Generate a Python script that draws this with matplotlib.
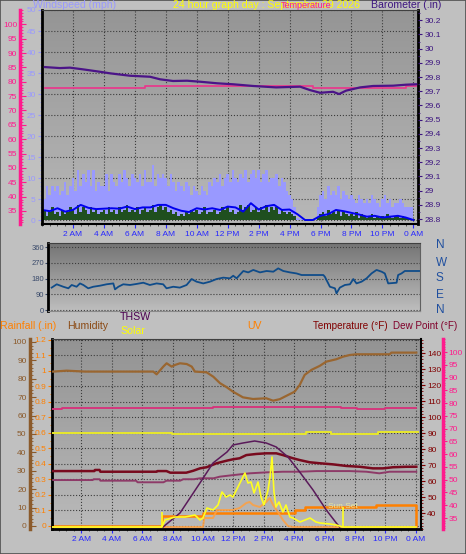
import logging
import matplotlib
matplotlib.use("Agg")
import matplotlib.pyplot as plt
import numpy as np
from matplotlib.colors import to_rgb
from matplotlib.ticker import MultipleLocator, FormatStrFormatter
from matplotlib.patches import Rectangle

logging.getLogger("matplotlib.font_manager").setLevel(logging.ERROR)
plt.rcParams["font.family"] = ["Liberation Sans", "DejaVu Sans"]

# ---------------- data ----------------
hour_ticks = list(range(2, 25, 2))
hour_labels = ["2 AM", "4 AM", "6 AM", "8 AM", "10 AM", "12 PM",
               "2 PM", "4 PM", "6 PM", "8 PM", "10 PM", "0 AM"]

# wind, 10 minute samples (mph)
t10 = np.arange(145) / 6.0
gust = [7, 5, 8, 6, 8, 7,  8, 6, 7, 9, 6, 8,  10, 7, 12, 8, 11, 9,
        12, 8, 12, 7, 9, 8,  8, 11, 7, 11, 9, 8,  11, 9, 12, 10, 8, 11,
        10, 9, 11, 8, 12, 9,  9, 13, 8, 11, 10, 11,  10, 8, 11, 9, 7, 9,
        8, 7, 9, 8, 6, 8,  7, 6, 8, 7, 6, 9,  8, 10, 9, 11, 8, 10,
        11, 9, 12, 10, 9, 11,  10, 12, 9, 11, 12, 10,  12, 9, 11, 12, 9, 10,
        10, 11, 8, 10, 9, 7,  6, 5, 3, 0.5, 0.3, 0.3,  0.3, 0.3, 0.3, 0.3, 0.3, 3,
        6, 7, 5, 8, 6, 7,  6, 8, 5, 7, 6, 5,  6, 5, 4, 6, 5, 4,
        5, 4, 6, 5, 4, 3,  5, 6, 4, 5, 3, 4,  4, 5, 4, 3, 3, 3,  3]
speed = [1.5, 2.5, 1.0, 2.0, 3.0, 1.5,  2.0, 1.0, 2.5, 1.5, 2.0, 3.0,
         2.5, 1.5, 3.5, 2.0, 3.0, 2.5,  1.5, 3.0, 2.0, 2.5, 1.5, 2.0,
         2.5, 1.5, 3.0, 2.0, 2.5, 1.5,  3.0, 2.0, 2.5, 3.5, 2.0, 2.5,
         2.0, 3.0, 1.5, 2.5, 3.0, 2.0,  2.5, 3.5, 2.0, 3.0, 3.5, 2.5,
         3.0, 2.0, 2.5, 1.5, 2.0, 1.0,  1.5, 1.0, 2.0, 1.5, 2.5, 2.0,
         2.5, 1.5, 2.0, 3.0, 1.5, 2.0,  2.0, 2.5, 1.5, 2.0, 3.0, 2.5,
         3.0, 2.0, 2.5, 1.5, 2.0, 3.5,  2.5, 3.0, 3.5, 2.0, 2.5, 3.0,
         2.0, 3.0, 2.5, 3.5, 2.0, 3.0,  2.5, 3.0, 1.5, 2.5, 2.0, 1.5,
         2.0, 1.5, 1.0, 0, 0, 0,  0, 0, 0, 0, 0, 0.5,
         1.5, 2.0, 1.0, 2.5, 1.5, 2.0,  1.5, 2.5, 1.0, 2.0, 1.5, 1.0,
         1.5, 1.0, 2.0, 0.5, 1.5, 1.0,  0.5, 1.0, 1.5, 0.5, 1.0, 0.5,
         1.0, 0.5, 1.5, 1.0, 0.5, 1.0,  1.0, 0.5, 1.0, 0.5, 0.5, 0.3,  0.2]
t30 = np.arange(49) / 2.0
avg_speed = [2.4, 2.1, 2.8, 2.0, 2.4, 3.6, 2.9, 2.6, 2.7, 2.8, 2.7, 3.2,
             2.6, 3.0, 3.0, 3.6, 3.6, 2.8, 2.2, 1.9, 2.8, 2.5, 2.8, 2.4,
             3.2, 3.0, 2.0, 4.0, 2.5, 3.3, 3.6, 2.4, 2.5, 1.4, 0, 0,
             1.0, 1.4, 2.4, 2.1, 1.7, 1.3, 0.8, 1.0, 0.6, 0.8, 1.0, 0.6, 0]

# barometer (in)
baro_h = [0.19, 1.16, 1.81, 2.65, 3.75, 4.40, 5.69, 6.98, 7.63, 8.47, 9.37, 10.21,
          11.31, 12.35, 13.64, 15.13, 16.68, 17.32, 17.97, 18.81, 19.20, 19.65,
          20.56, 21.40, 22.69, 23.53, 24.18]
baro = [29.870, 29.863, 29.866, 29.854, 29.837, 29.826, 29.809, 29.802, 29.784,
        29.772, 29.774, 29.767, 29.756, 29.749, 29.737, 29.727, 29.732, 29.708,
        29.689, 29.696, 29.680, 29.704, 29.727, 29.737, 29.739, 29.746, 29.749]

# temperature trace of the upper panel (F), stepped
temp_top_h = [0.19, 6.66, 10.73, 17.52, 20.56, 23.53, 24.18]
temp_top = [77.75, 78.4, 78.7, 77.9, 78.0, 78.7, 78.7]

# wind direction (deg)
dir_h = [0.0, 0.33, 0.76, 1.09, 1.31, 1.63, 1.85, 2.07, 2.39, 2.72, 3.16, 3.59,
         4.03, 4.14, 4.36, 4.68, 5.12, 5.55, 5.99, 6.42, 6.86, 7.29, 7.51, 7.95,
         8.38, 8.82, 9.15, 9.47, 9.91, 10.35, 10.78, 11.22, 11.65, 11.87, 12.09,
         12.53, 12.85, 13.18, 13.62, 14.05, 14.49, 14.81, 15.14, 15.58, 16.01,
         16.34, 17.76, 17.86, 18.19, 18.52, 18.62, 18.84, 19.17, 19.5, 19.72,
         19.93, 20.26, 20.59, 20.91, 21.24, 21.57, 21.78, 22.0, 22.55, 22.65,
         22.87, 23.09, 24.03]
dir_deg = [128, 147, 133, 124, 143, 133, 152, 143, 124, 133, 139, 147,
           152, 118, 133, 147, 143, 149, 156, 143, 152, 147, 124, 133,
           128, 143, 177, 162, 152, 162, 177, 185, 181, 196, 181,
           223, 215, 229, 215, 223, 219, 238, 223, 215, 209,
           200, 200, 190, 133, 124, 95, 128, 143, 147, 177,
           152, 162, 181, 209, 229, 219, 209, 152, 156, 200,
           209, 223, 223]

# humidity (%)
hum_h = [0.15, 1.03, 2.24, 6.73, 6.95, 7.39, 7.61, 7.94, 8.16, 8.49, 8.93, 9.26,
         9.47, 10.24, 10.68, 11.12, 11.56, 11.97, 12.63, 13.29, 14.16, 14.61,
         15.05, 15.48, 16.03, 16.36, 16.69, 17.13, 17.68, 18.11, 18.77, 19.21,
         19.65, 20.09, 22.28, 22.39, 24.03]
humidity = [83.9, 84.4, 83.9, 83.9, 82.4, 86.6, 88.4, 86.6, 87.5, 88.4, 88.0, 86.6,
            83.9, 83.5, 81.1, 77.6, 75.4, 73.0, 69.9, 69.0, 69.4, 68.1,
            68.9, 70.7, 73.0, 76.6, 82.1, 84.8, 87.0, 89.3, 90.6, 92.0,
            92.9, 93.3, 93.3, 94.2, 94.2]

# dew point (F), stepped
dew_h = [0.07, 0.72, 10.66, 19.08, 20.13, 21.97, 24.01]
dew = [77.7, 78.2, 78.6, 78.0, 77.7, 78.0, 78.0]

# inside temperature (F), stepped
tin_h = [0.07, 7.96, 16.78, 18.42, 21.51, 24.14]
temp_in = [90.2, 89.4, 90.6, 89.4, 90.6, 90.6]

# outside temperature (F)
temp_h = [0.15, 2.85, 2.9, 3.2, 3.25, 6.95, 7.0, 7.6, 7.85, 8.9, 9.36, 9.8, 10.24,
          10.9, 11.56, 11.99, 12.41, 12.85, 13.51, 14.16, 14.82, 15.26, 15.92,
          16.36, 17.02, 17.68, 18.55, 19.43, 20.31, 21.18, 21.84, 22.5, 23.38, 24.03]
temp = [66.2, 66.2, 66.9, 66.9, 65.8, 65.8, 66.2, 66.2, 65.2, 65.2, 66.4, 67.9, 68.6,
        71.1, 72.7, 73.6, 74.2, 76.2, 76.9, 77.3, 77.3, 76.2, 74.2,
        73.1, 71.7, 71.1, 70.4, 69.4, 68.9, 67.9, 67.9, 68.6, 68.9, 68.9]

# wind chill (F)
chill_h = [0.15, 2.75, 2.8, 3.2, 3.25, 5.6, 5.7, 7.4, 7.6, 8.5, 8.7, 9.4, 9.8, 10.7,
           11.1, 12.0, 13.07, 14.16, 15.26, 16.36, 17.46, 19.65, 20.75, 21.6, 22.28, 24.03]
chill = [60.6, 60.6, 61.1, 61.1, 60.2, 60.2, 59.2, 59.2, 60.2, 60.2, 61.1, 61.1, 61.7,
         61.7, 62.7, 63.7, 64.8, 65.4, 65.8, 65.8, 66.2, 66.2, 65.8, 64.8, 65.8, 65.8]

# THSW (arc)
thsw_h = [7.37, 8.49, 9.8, 10.66, 11.58, 11.97, 12.63, 13.4, 14.16, 14.82,
          15.59, 16.36, 17.24, 18.11, 18.77, 18.99]
thsw = [0, 70, 220, 320, 375, 410, 420, 430, 420, 400, 350, 275, 185, 85, 20, 0]

# solar radiation (W/m2)
solar_h = [0.07, 7.3, 7.5, 8.16, 8.82, 9.47, 9.8, 10.0, 10.26, 10.66, 10.99, 11.25,
           11.51, 11.78, 11.97, 12.3, 12.76, 12.96, 13.16, 13.36, 13.62, 13.82,
           14.01, 14.28, 14.41, 14.54, 14.67, 14.8, 15.0, 15.26, 15.46, 15.72,
           15.92, 16.38, 17.04, 17.43, 17.7, 18.36, 18.75, 19.21, 24.01]
solar = [0, 0, 35, 50, 50, 60, 35, 45, 95, 85, 110, 175,
         150, 160, 150, 200, 270, 220, 225, 170, 225, 150,
         110, 185, 250, 350, 175, 100, 125, 75, 110, 50,
         45, 25, 45, 25, 20, 15, 10, 0, 0]
sunrise_h, sunset_h = 7.3, 19.21

# UV index
uv_h = [0.07, 10.0, 10.09, 10.66, 10.92, 11.97, 12.41, 12.85, 13.07, 13.29, 13.73,
        14.16, 14.39, 14.61, 14.93, 15.26, 15.59, 15.92, 24.01]
uv = [0, 0, 0.54, 0.54, 1.02, 1.02, 1.14, 1.44, 1.5, 1.32, 1.2,
      1.5, 1.74, 1.32, 0.9, 0.42, 0.06, 0, 0]

# rainfall (in), stepped
rain_h = [0.07, 7.3, 10.0, 16.05, 16.7, 21.41, 24.01]
rain = [0, 0.065, 0.084, 0.103, 0.12, 0.135, 0]

# ---------------- figure ----------------
W, H = 466, 554
fig = plt.figure(figsize=(W / 100, H / 100), dpi=100)
fig.patch.set_facecolor("#c0c0c0")
fig.patches.append(Rectangle((0, 0), 1, 1, transform=fig.transFigure, fill=False,
                             edgecolor="#505050", lw=1.2))

PINK = "#ff1a8c"
GRID = dict(ls=":", color="#3c3c3c", lw=0.8)


def px_rect(x0, y0, x1, y1):
    return [x0 / W, 1 - y1 / H, (x1 - x0) / W, (y1 - y0) / H]


def label(x, y, s, color, size=7.6):
    fig.text(x / W, 1 - y / H, s, color=color, fontsize=size, va="center", ha="left")


def shade(a, c_top, c_bot):
    t, b = np.array(to_rgb(c_top)), np.array(to_rgb(c_bot))
    f = np.linspace(0, 1, 200)[:, None, None]
    a.imshow(t + (b - t) * f, extent=(0, 1, 0, 1), transform=a.transAxes,
             aspect="auto", zorder=-5, interpolation="bilinear")


def hide(a):
    for s in a.spines.values():
        s.set_visible(False)


def time_axis(a):
    a.set_xticks(hour_ticks)
    a.set_xticklabels(hour_labels)
    a.xaxis.set_minor_locator(MultipleLocator(0.5))
    a.tick_params(axis="x", which="both", colors="#2828ff", labelsize=6, pad=2)
    a.tick_params(axis="x", which="major", length=3)
    a.tick_params(axis="x", which="minor", length=1.5, color="#404040")


# ---- top panel: wind speed / barometer ----
ax = fig.add_axes(px_rect(42, 10, 418, 224))
shade(ax, "#959595", "#b8b8b8")
ax.fill_between(t10, 0, gust, step="mid", color="#9999ff", lw=0)
ax.bar(t10, speed, width=1 / 6, color="#1f4f1f", lw=0)
ax.plot(t30, avg_speed, color="#0000ee", lw=1.4)
ax.set_xlim(0, 24.3)
ax.set_ylim(-0.95, 50)
time_axis(ax)
ax.set_yticks(range(0, 51, 5))
ax.yaxis.set_minor_locator(MultipleLocator(1))
ax.tick_params(axis="y", which="both", colors="#9999ff", labelsize=6, pad=1.5)
ax.tick_params(axis="y", which="major", length=3)
ax.tick_params(axis="y", which="minor", length=1.5)
ax.set_axisbelow(True)
ax.grid(True, **GRID)
ax.spines["left"].set_linewidth(2)
ax.spines["right"].set_linewidth(2)
ax.spines["bottom"].set_linewidth(1.5)
ax.spines["top"].set_color("#404040")

axp = ax.twinx()
axp.plot(temp_top_h, temp_top, drawstyle="steps-post", color="#e63c8c", lw=1.3)
axp.set_ylim(30.47, 105.0)
hide(axp)
axp.spines["left"].set_visible(True)
axp.spines["left"].set_position(("axes", -22 / 376))
axp.spines["left"].set_color(PINK)
axp.spines["left"].set_linewidth(2.5)
axp.yaxis.set_ticks_position("left")
axp.set_yticks(range(35, 101, 5))
axp.yaxis.set_minor_locator(MultipleLocator(1))
axp.tick_params(axis="y", which="both", direction="in", colors=PINK, labelsize=6, pad=2)
axp.tick_params(axis="y", which="major", length=4)
axp.tick_params(axis="y", which="minor", length=2)

axb = ax.twinx()
axb.plot(baro_h, baro, color="#4b1488", lw=1.6)
axb.set_ylim(28.765, 30.272)
hide(axb)
axb.set_yticks(np.round(np.arange(28.8, 30.25, 0.1), 1))
axb.yaxis.set_major_formatter(FormatStrFormatter("%g"))
axb.yaxis.set_minor_locator(MultipleLocator(0.05))
axb.tick_params(axis="y", which="both", colors="#3c1480", labelsize=6, pad=2)
axb.tick_params(axis="y", which="major", length=3)
axb.tick_params(axis="y", which="minor", length=1.5)

label(33, 5, "Windspeed (mph)", "#9999ff")
label(173, 5, "24 hour graph day : September 29 2026", "#ffff00")
label(281, 5, "Temperature", PINK, size=6.5)
label(371, 5, "Barometer (.in)", "#3c1480")

# ---- middle panel: wind direction ----
axm = fig.add_axes(px_rect(48, 243, 420, 311))
shade(axm, "#747474", "#bebebe")
axm.plot(dir_h, dir_deg, color="#0f4c8a", lw=1.3)
axm.set_xlim(-0.24, 24.08)
axm.set_ylim(-5.7, 383)
axm.set_xticks([])
axm.set_yticks([0, 90, 180, 270, 360])
axm.tick_params(axis="y", colors="#3a4a6a", labelsize=5.5, length=2, pad=1)
axm.yaxis.grid(True, **GRID)
axm.spines["left"].set_linewidth(2)
axm.spines["top"].set_color("#404040")
axm.spines["right"].set_color("#606060")
axm.spines["bottom"].set_color("#8a8a8a")
for yy, s in zip([245, 263, 278, 295, 310], "NWSEN"):
    label(436, yy, s, "#1f4f9f", size=8.5)

# ---- bottom panel ----
axr = fig.add_axes(px_rect(52, 339, 421, 529))
shade(axr, "#939393", "#bababa")
axr.set_xlim(0.07, 24.34)
axr.set_ylim(-0.0194, 1.206)
time_axis(axr)
axr.set_yticks(np.round(np.arange(0, 1.21, 0.1), 1))
axr.yaxis.set_major_formatter(FormatStrFormatter("%g"))
axr.yaxis.set_minor_locator(MultipleLocator(0.05))
axr.tick_params(axis="y", which="both", colors="#ff8000", labelsize=6, pad=1)
axr.tick_params(axis="y", which="major", length=3)
axr.tick_params(axis="y", which="minor", length=1.5)
axr.set_axisbelow(True)
axr.grid(True, **GRID)
axr.spines["left"].set_linewidth(2)
axr.spines["bottom"].set_linewidth(2)
axr.spines["right"].set_visible(False)
axr.spines["top"].set_color("#404040")

axh = axr.twinx()
axh.plot(hum_h, humidity, color="#9a6630", lw=1.6)
axh.set_ylim(-1.63, 101.6)
hide(axh)
axh.spines["left"].set_visible(True)
axh.spines["left"].set_position(("axes", -22 / 369))
axh.spines["left"].set_color("#8b5a2b")
axh.spines["left"].set_linewidth(2.5)
axh.yaxis.set_ticks_position("left")
axh.set_yticks(range(0, 101, 10))
axh.yaxis.set_minor_locator(MultipleLocator(2))
axh.tick_params(axis="y", which="both", direction="in", colors="#8b5a2b", labelsize=6, pad=2.5)
axh.tick_params(axis="y", which="major", length=4)
axh.tick_params(axis="y", which="minor", length=2)

axd = axr.twinx()
axd.plot(dew_h, dew, drawstyle="steps-post", color="#d8307a", lw=1.3)
axd.set_ylim(30.7, 105.1)
hide(axd)
axd.spines["right"].set_visible(True)
axd.spines["right"].set_position(("axes", 391 / 369))
axd.spines["right"].set_color(PINK)
axd.spines["right"].set_linewidth(2.5)
axd.set_yticks(range(35, 101, 5))
axd.yaxis.set_minor_locator(MultipleLocator(1))
axd.tick_params(axis="y", which="both", colors=PINK, labelsize=6, pad=1)
axd.tick_params(axis="y", which="major", length=3)
axd.tick_params(axis="y", which="minor", length=1.5)

axt = axr.twinx()
axt.plot(tin_h, temp_in, drawstyle="steps-post", color="#e8e82c", lw=1.4)
axt.plot(chill_h, chill, color="#8e3a68", lw=1.4)
axt.plot(temp_h, temp, color="#780a1e", lw=1.8)
axt.set_ylim(30, 148.75)
hide(axt)
axt.spines["right"].set_visible(True)
axt.spines["right"].set_linewidth(1.5)
axt.set_yticks(range(40, 141, 10))
axt.yaxis.set_minor_locator(MultipleLocator(2))
axt.tick_params(axis="y", which="both", colors="#800000", labelsize=6, pad=1.5)
axt.tick_params(axis="y", which="major", length=3)
axt.tick_params(axis="y", which="minor", length=1.5)

axu = axr.twinx()
axu.plot(uv_h, uv, color="#ffa040", lw=1.4, alpha=0.85)
axu.set_ylim(-0.12, 11.28)
axu.axis("off")

axr.plot(rain_h, rain, drawstyle="steps-post", color="#ff8000", lw=1.8)

axs = axr.twinx()
axs.plot(thsw_h, thsw, color="#5a1a5a", lw=1.1)
axs.plot(solar_h, solar, color="#ffff22", lw=1.2)
axs.vlines([sunrise_h], 0, 75, color="#ffff22", lw=1.2)
axs.vlines([sunset_h], 0, 100, color="#ffff22", lw=1.2)
axs.text(18.22, 100, "Sun Set", color="#e6e6a0", fontsize=6, va="center")
axs.set_ylim(-10, 940)
axs.axis("off")

label(0, 326, "Rainfall (.in)", "#ff8000")
label(67, 326, "Humidity", "#8b4a14")
label(120, 317, "THSW", "#4b0050")
label(120, 331, "Solar", "#ffff00")
label(247, 326, "UV", "#ff8000")
label(313, 326, "Temperature (\u00b0F)", "#800000", size=7.1)
label(393, 326, "Dew Point (\u00b0F)", "#80002a", size=7.1)

fig.savefig("out.png", dpi=100, facecolor=fig.get_facecolor())
